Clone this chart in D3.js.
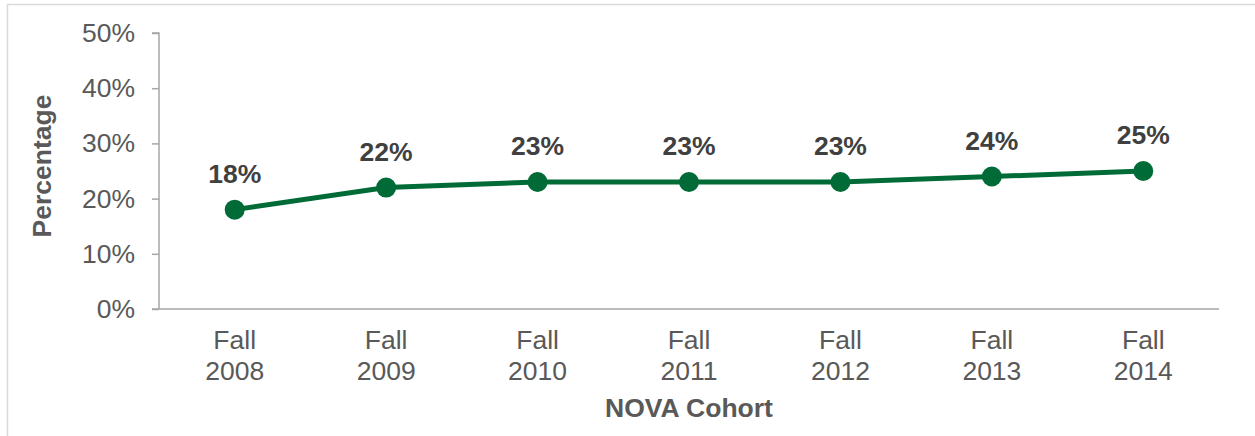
<!DOCTYPE html>
<html>
<head>
<meta charset="utf-8">
<script src="https://cdn.jsdelivr.net/npm/d3@7"></script>
<style>
  body { margin: 0; background: #fff; }
  svg { font-family: "Liberation Sans", Arial, sans-serif; }
</style>
</head>
<body>
<svg id="chart" width="1255" height="436"></svg>
<script>
const cohorts = ['Fall 2008', 'Fall 2009', 'Fall 2010', 'Fall 2011', 'Fall 2012', 'Fall 2013', 'Fall 2014'];
const rates = [0.18, 0.22, 0.23, 0.23, 0.23, 0.24, 0.25];
const yTicks = [0, 0.1, 0.2, 0.3, 0.4, 0.5];

const plotLeft = 159;
const plotRight = 1219;
const plotTop = 33;
const plotBottom = 309;
const green = '#006b36';
const fontSize = '26.5px';

const svg = d3.select('#chart');

// chart frame (only top and left edges are visible in the crop)
svg.append('path')
  .attr('d', 'M7.5,436V4.5H1255')
  .attr('fill', 'none').attr('stroke', '#d9d9d9').attr('stroke-width', 1.5);

const xscale = d3.scaleBand()
  .domain(cohorts)
  .range([plotLeft, plotRight]);

const yscale = d3.scaleLinear()
  .domain([0, 0.5])
  .range([plotBottom, plotTop]);

// y axis
const leftAxis = d3.axisLeft(yscale)
  .tickValues(yTicks)
  .tickFormat(d3.format('.0%'))
  .tickSize(7)
  .tickPadding(17);
const yg = svg.append('g')
  .attr('transform', `translate(${plotLeft}, 0)`)
  .call(leftAxis);
yg.selectAll('path, line').attr('stroke', '#a6a6a6').attr('stroke-width', 1.5);
yg.select('.domain').attr('d', `M-7,${plotTop}H0V${plotBottom}`);
yg.selectAll('text')
  .attr('fill', '#595959')
  .style('font-size', fontSize);

// x axis
const bottomAxis = d3.axisBottom(xscale).tickSize(0).tickFormat('');
const xg = svg.append('g')
  .attr('transform', `translate(0, ${plotBottom})`)
  .call(bottomAxis);
xg.select('.domain').attr('stroke', '#a6a6a6').attr('stroke-width', 1.5)
  .attr('d', `M${plotLeft - 7},0H${plotRight}`);

xg.selectAll('.tick').each(function (d) {
  const parts = d.split(' ');
  const t = d3.select(this).append('text')
    .attr('fill', '#595959')
    .attr('text-anchor', 'middle')
    .style('font-size', fontSize);
  t.append('tspan').attr('x', 0).attr('y', 40).text(parts[0]);
  t.append('tspan').attr('x', 0).attr('y', 71).text(parts[1]);
});

// axis titles
svg.append('text')
  .text('NOVA Cohort')
  .attr('x', (plotLeft + plotRight) / 2)
  .attr('y', 417)
  .attr('text-anchor', 'middle')
  .attr('fill', '#595959')
  .style('font-size', fontSize)
  .style('font-weight', 'bold');

svg.append('text')
  .text('Percentage')
  .attr('transform', 'translate(51, 166) rotate(-90)')
  .attr('text-anchor', 'middle')
  .attr('fill', '#595959')
  .style('font-size', fontSize)
  .style('font-weight', 'bold');

const cx = (d, i) => xscale(cohorts[i]) + xscale.bandwidth() / 2;

const line = d3.line()
  .x((d, i) => cx(d, i))
  .y((d) => yscale(d));

svg.append('path')
  .datum(rates)
  .attr('d', line)
  .attr('fill', 'none')
  .attr('stroke', green)
  .attr('stroke-width', 5);

svg.append('g')
  .selectAll('circle')
  .data(rates)
  .enter()
  .append('circle')
  .attr('cx', cx)
  .attr('cy', (d) => yscale(d))
  .attr('r', 10)
  .attr('fill', green);

svg.append('g')
  .selectAll('text')
  .data(rates)
  .enter()
  .append('text')
  .text((d) => d3.format('.0%')(d))
  .attr('x', cx)
  .attr('y', (d) => yscale(d) - 27)
  .attr('text-anchor', 'middle')
  .attr('fill', '#404040')
  .style('font-size', fontSize)
  .style('font-weight', 'bold');
</script>
</body>
</html>
